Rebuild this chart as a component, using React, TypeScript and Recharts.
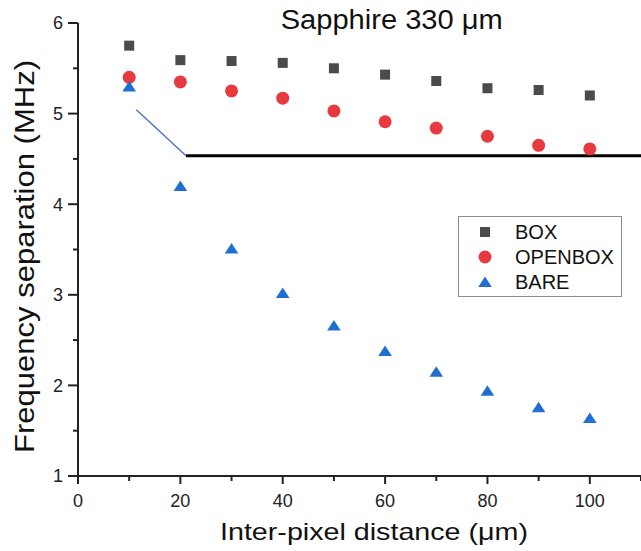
import React from "react";
import {
  ScatterChart,
  Scatter,
  XAxis,
  YAxis,
  ReferenceLine,
  Legend,
  Customized,
} from "recharts";

const xValues = [10, 20, 30, 40, 50, 60, 70, 80, 90, 100];
const boxValues = [5.75, 5.59, 5.58, 5.56, 5.5, 5.43, 5.36, 5.28, 5.26, 5.2];
const openboxValues = [5.4, 5.35, 5.25, 5.17, 5.03, 4.91, 4.84, 4.75, 4.65, 4.61];
const bareValues = [5.3, 4.2, 3.51, 3.02, 2.66, 2.38, 2.15, 1.94, 1.76, 1.64];

const xTicks = [0, 10, 20, 30, 40, 50, 60, 70, 80, 90, 100, 110];
const yTicks = [1, 1.5, 2, 2.5, 3, 3.5, 4, 4.5, 5, 5.5, 6];

const blackLine = [
  { x: 21.1, y: 4.535 },
  { x: 110, y: 4.535 },
];
const blueLine = [
  { x: 11.4, y: 5.043 },
  { x: 21.1, y: 4.535 },
];

const FONT = "'Liberation Sans', Arial, sans-serif";

const COLORS = { box: "#4b4b4b", openbox: "#e8393e", bare: "#1f6ed2" };

const toData = (vals: number[]) => xValues.map((x, i) => ({ x, y: vals[i] }));

const series = [
  { name: "BOX", data: toData(boxValues), color: COLORS.box, kind: "square" },
  { name: "OPENBOX", data: toData(openboxValues), color: COLORS.openbox, kind: "circle" },
  { name: "BARE", data: toData(bareValues), color: COLORS.bare, kind: "triangle" },
];

const Marker = ({ kind, cx, cy, color }: any) => {
  if (cx == null || cy == null) return null;
  if (kind === "square")
    return <rect x={cx - 5} y={cy - 5} width={10} height={10} fill={color} />;
  if (kind === "circle") return <circle cx={cx} cy={cy} r={6.5} fill={color} />;
  return (
    <polygon
      points={`${cx},${cy - 5.5} ${cx + 6.8},${cy + 5} ${cx - 6.8},${cy + 5}`}
      fill={color}
    />
  );
};

const YTick = (props: any) => {
  const { x, y, payload } = props;
  const v = payload.value;
  const major = Number.isInteger(v);
  return (
    <g>
      <line x1={x} x2={x - (major ? 10 : 5)} y1={y} y2={y} stroke="#222" strokeWidth={2} />
      {major && (
        <text x={x - 15} y={y} dy="0.36em" textAnchor="end" fontSize={18} fill="#222" fontFamily={FONT}>
          {v}
        </text>
      )}
    </g>
  );
};

const XTick = (props: any) => {
  const { x, y, payload } = props;
  const v = payload.value;
  const major = v % 20 === 0;
  return (
    <g>
      <line x1={x} x2={x} y1={y} y2={y + (major ? 8 : 5)} stroke="#222" strokeWidth={2} />
      {major && (
        <text x={x} y={y + 31} textAnchor="middle" fontSize={18} fill="#222" fontFamily={FONT}>
          {v}
        </text>
      )}
    </g>
  );
};

const Texts = () => (
  <g fontFamily={FONT} fill="#111">
    <text x={280.7} y={28.5} fontSize={27} textLength={222} lengthAdjust="spacingAndGlyphs">
      Sapphire 330 μm
    </text>
    <text x={220} y={540} fontSize={24} textLength={308} lengthAdjust="spacingAndGlyphs">
      Inter-pixel distance (μm)
    </text>
    <text
      x={33.5}
      y={256.5}
      fontSize={27}
      textAnchor="middle"
      textLength={393}
      lengthAdjust="spacingAndGlyphs"
      transform="rotate(-90, 33.5, 256.5)"
    >
      Frequency separation (MHz)
    </text>
  </g>
);

const LegendBox = () => (
  <div
    style={{
      width: 164,
      height: 81,
      border: "1px solid #8c8c8c",
      boxSizing: "border-box",
      background: "#fff",
    }}
  >
    <svg width={162} height={79} style={{ display: "block" }}>
      {series.map((s, i) => (
        <g key={s.name}>
          <Marker kind={s.kind} cx={26} cy={15 + i * 25} color={s.color} />
          <text x={56} y={15 + i * 25} dy="0.36em" fontSize={20} fill="#111" fontFamily={FONT}>
            {s.name}
          </text>
        </g>
      ))}
    </svg>
  </div>
);

export default function App() {
  return (
    <div style={{ position: "absolute", left: 0, top: 0, width: 641, height: 551, background: "#fff" }}>
      <ScatterChart width={641} height={551} margin={{ top: 23, right: 0, bottom: 0, left: 0 }}>
        <XAxis
          type="number"
          dataKey="x"
          domain={[0, 110]}
          ticks={xTicks}
          height={75}
          tickSize={0}
          tickMargin={0}
          tickLine={false}
          axisLine={{ stroke: "#222", strokeWidth: 2 }}
          tick={<XTick />}
          interval={0}
          allowDataOverflow
        />
        <YAxis
          type="number"
          dataKey="y"
          domain={[1, 6]}
          ticks={yTicks}
          width={78}
          tickSize={0}
          tickMargin={0}
          tickLine={false}
          axisLine={{ stroke: "#222", strokeWidth: 2 }}
          tick={<YTick />}
          interval={0}
          allowDataOverflow
        />
        <ReferenceLine segment={blueLine} stroke="#4a70c8" strokeWidth={1.4} />
        <ReferenceLine segment={blackLine} stroke="#000" strokeWidth={3} />
        {series.map((s) => (
          <Scatter
            key={s.name}
            name={s.name}
            data={s.data}
            fill={s.color}
            isAnimationActive={false}
            shape={(p: any) => <Marker kind={s.kind} cx={p.cx} cy={p.cy} color={s.color} />}
          />
        ))}
        <Legend
          layout="horizontal"
          verticalAlign="middle"
          align="center"
          content={() => <LegendBox />}
          wrapperStyle={{ position: "absolute", left: 458, top: 216, width: 164, height: 81 }}
        />
        <Customized component={Texts} />
      </ScatterChart>
    </div>
  );
}
